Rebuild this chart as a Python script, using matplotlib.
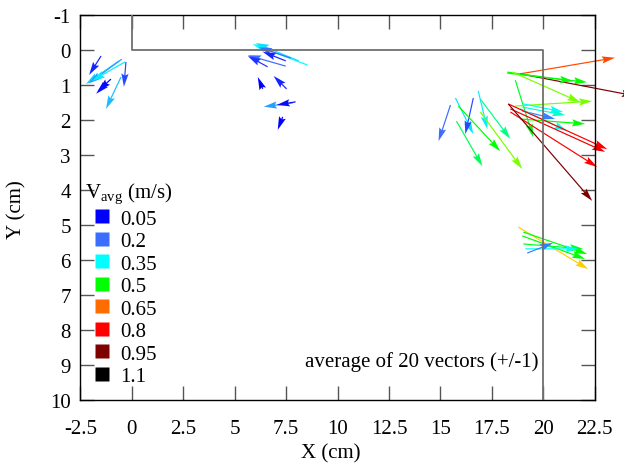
import numpy as np
import matplotlib
matplotlib.use("Agg")
import matplotlib.pyplot as plt
from matplotlib.colors import LinearSegmentedColormap, Normalize
from matplotlib.lines import Line2D

plt.rcParams["font.family"] = ["Liberation Serif", "DejaVu Serif"]
plt.rcParams["mathtext.fontset"] = "custom"
plt.rcParams["mathtext.rm"] = "Liberation Serif"
plt.rcParams["axes.unicode_minus"] = False

# vector tails (cm), components (cm) and mean speed (m/s)
x0 = [-1.50, -0.63, -0.49, -0.34, -1.02, -1.21, -0.29, -0.53,
      8.54, 8.11, 7.72, 7.48, 7.48, 6.60, 6.36, 7.52, 7.82, 7.96, 7.33,
      15.49, 15.73, 16.60, 16.84, 16.94, 15.87, 15.78, 16.94,
      18.88, 18.88, 18.25, 18.25, 18.50, 18.64, 18.64, 19.03, 18.98, 18.98,
      18.88, 18.88, 18.30, 18.40, 18.40, 18.30,
      18.79, 19.03, 18.98, 19.03, 19.13, 19.22]
y0 = [0.18, 0.32, 0.27, 0.35, 0.84, 0.95, 0.35, 0.78,
      0.44, 0.32, 0.24, 0.32, 0.47, 0.49, 1.12, 1.12, 1.52, 1.49, 1.92,
      1.58, 1.38, 1.38, 1.18, 1.41, 1.61, 2.04, 1.78,
      0.69, 0.69, 0.67, 0.64, 0.64, 0.87, 1.61, 1.55, 1.64, 1.75,
      1.69, 1.98, 1.55, 1.69, 1.78, 1.55,
      5.07, 5.21, 5.32, 5.55, 5.69, 5.81]
dx = [-0.58, -1.60, -1.60, -1.60, -0.63, -0.53, -0.10, -0.73,
      -2.67, -2.09, -1.55, -1.12, -1.84, -0.97, -0.24, -0.63, -1.41, -0.92, -0.24,
      -0.58, 0.87, -0.39, 0.44, 1.46, 2.04, 1.26, 2.04,
      4.61, 5.58, 3.88, 3.20, 3.30, 0.87, 3.74, 1.94, 2.09, 1.60,
      2.28, 3.16, 4.81, 4.61, 4.22, 4.08,
      3.40, 3.11, 3.06, 2.91, 2.57, 1.26]
dy = [0.54, 0.66, 0.69, 0.54, 0.34, 0.31, 0.71, 0.91,
      -0.60, -0.51, -0.31, -0.26, -0.31, -0.31, -0.34, -0.37, 0.11, 0.09, 0.37,
      1.03, 1.03, 1.03, 1.09, 1.14, 1.29, 1.29, 1.63,
      -0.46, 0.63, 0.26, 0.26, 0.86, 1.63, -0.14, 0.23, 0.23, 0.23,
      0.63, 0.14, 1.29, 1.23, 1.57, 2.77,
      1.20, 0.63, 0.66, 0.14, 0.00, -0.29]
speed = [0.10, 0.30, 0.25, 0.33, 0.05, 0.07, 0.15, 0.28,
         0.35, 0.32, 0.20, 0.10, 0.20, 0.12, 0.05, 0.10, 0.25, 0.07, 0.05,
         0.20, 0.32, 0.15, 0.33, 0.42, 0.50, 0.45, 0.55,
         0.70, 0.95, 0.50, 0.50, 0.55, 0.48, 0.55, 0.35, 0.38, 0.22,
         0.35, 0.50, 0.80, 0.82, 0.80, 0.95,
         0.60, 0.50, 0.50, 0.48, 0.36, 0.22]

legend_values = [0.05, 0.2, 0.35, 0.5, 0.65, 0.8, 0.95, 1.1]
x_ticks = [-2.5, 0, 2.5, 5, 7.5, 10, 12.5, 15, 17.5, 20, 22.5]
x_tick_labels = ["-2.5", "0", "2.5", "5", "7.5", "10", "12.5", "15", "17.5", "20", "22.5"]

# palette
nodes = [0.05, 0.2, 0.35, 0.5, 0.56, 0.6, 0.65, 0.8, 0.95, 1.1]
node_colors = ["#0000ff", "#3c6eff", "#00ffff", "#00ff00", "#96ff00",
               "#ffd200", "#ff6e00", "#ff0000", "#800000", "#000000"]
norm = Normalize(vmin=0.05, vmax=1.1)
cmap = LinearSegmentedColormap.from_list(
    "vavg", [(norm(v), c) for v, c in zip(nodes, node_colors)])

fs = 15
fig = plt.figure(figsize=(6.24, 4.64), dpi=100)
ax = fig.add_axes([0.129, 0.1364, 0.824, 0.8298])

# channel outline
ax.plot([0, 0, 20, 20], [-1, 0, 0, 10], color="#707070", lw=1.3, zorder=3)

q = ax.quiver(x0, y0, dx, dy, speed, cmap=cmap, norm=norm,
              angles="xy", scale_units="xy", scale=1, units="dots",
              width=1.2, headwidth=6, headlength=11, headaxislength=9.5,
              zorder=2)
q.set_clip_on(False)

ax.set_xlim(-2.5, 22.5)
ax.set_ylim(10, -1)
ax.set_xticks(x_ticks)
ax.set_xticklabels(x_tick_labels)
ax.set_yticks(range(-1, 11))
ax.tick_params(direction="in", length=10, width=1, color="#555555",
               top=True, right=True, labelsize=fs)
ax.tick_params(axis="x", pad=14)
ax.tick_params(axis="y", pad=7)
for s in ax.spines.values():
    s.set_linewidth(1)

ax.set_xlabel("X (cm)", fontsize=fs)
ax.set_ylabel("Y (cm)", fontsize=fs)
ax.xaxis.set_label_coords(0.487, -0.112)
ax.yaxis.set_label_coords(-0.105, 0.495)

handles = [Line2D([], [], ls="none", marker="s", markersize=9.5,
                  markerfacecolor=cmap(norm(v)), markeredgecolor="none")
           for v in legend_values]
labels = [f"{v:g}" for v in legend_values]
ax.legend(handles, labels, title=r"V$_{\mathrm{avg}}$ (m/s)", loc="upper left",
          bbox_to_anchor=(0.009, 0.568), frameon=False, fontsize=fs,
          title_fontsize=fs, handlelength=1.6, handletextpad=0.1,
          labelspacing=0.14, borderpad=0, borderaxespad=0, alignment="left")

ax.text(19.76, 8.89, "average of 20 vectors (+/-1)", ha="right", va="center",
        fontsize=fs)

fig.savefig("out.png", dpi=100)
